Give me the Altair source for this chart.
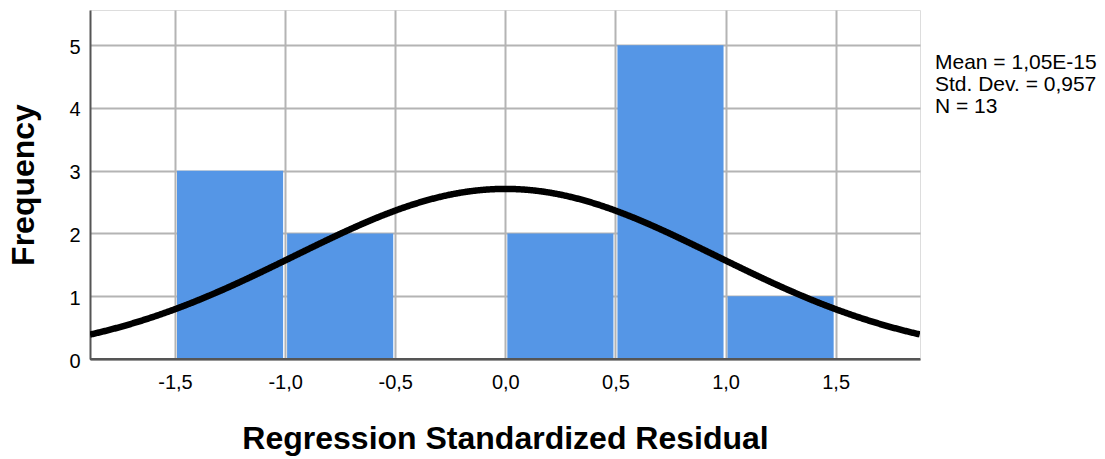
import altair as alt
import pandas as pd

# ---- data ----
bin_start = [-1.5, -1.0, -0.5, 0.0, 0.5, 1.0]
bin_end = [-1.0, -0.5, 0.0, 0.5, 1.0, 1.5]
freq = [3, 2, 0, 2, 5, 1]
x_ticks = [-1.5, -1.0, -0.5, 0.0, 0.5, 1.0, 1.5]
y_ticks = [0, 1, 2, 3, 4, 5]
mean_val = 1.05e-15
std_val = 0.957
n_val = 13
bin_width = 0.5
stats_lines = ["Mean = 1,05E-15", "Std. Dev. = 0,957", "N = 13"]
x_title = "Regression Standardized Residual"
y_title = "Frequency"

FONT = "Liberation Sans"
x_dom = [-1.886, 1.883]
y_dom = [0, 5.56]

bars_df = pd.DataFrame({"start": bin_start, "end": bin_end, "freq": freq})

xscale = alt.Scale(domain=x_dom, nice=False, zero=False)
yscale = alt.Scale(domain=y_dom, nice=False)

xaxis = alt.Axis(values=x_ticks,
                 labelExpr="replace(replace(format(datum.value, '.1f'), '.', ','), '\u2212', '-')",
                 grid=True, gridColor="#b4b4b4", gridWidth=2, ticks=False,
                 domainColor="#555555", domainWidth=2, labelFontSize=20, labelColor="#000000",
                 labelPadding=13, labelFont=FONT, title=x_title, titleFont=FONT,
                 titleFontSize=32, titleFontWeight="bold", titleColor="#000000", titlePadding=31)
yaxis = alt.Axis(values=y_ticks, format="d", grid=True, gridColor="#b4b4b4", gridWidth=2, ticks=False,
                 domainColor="#555555", domainWidth=2, labelFontSize=20, labelColor="#000000",
                 labelPadding=10, labelOffset=2, labelFont=FONT, title=y_title, titleFont=FONT,
                 titleFontSize=32, titleFontWeight="bold", titleColor="#000000", titlePadding=28)

bars = alt.Chart(bars_df).mark_bar(color="#5596e6", xOffset=2, x2Offset=-2).encode(
    x=alt.X("start:Q", scale=xscale, axis=xaxis),
    x2="end:Q",
    y=alt.Y("freq:Q", scale=yscale, axis=yaxis),
    y2=alt.datum(0),
)

pdf_expr = (f"{n_val * bin_width}/({std_val}*sqrt(2*PI))*"
            f"exp(-0.5*pow((datum.z-({mean_val}))/{std_val},2))")
curve = alt.Chart(alt.sequence(x_dom[0], x_dom[1], 0.004, as_="z")).transform_calculate(
    dens=pdf_expr
).mark_line(color="#000000", strokeWidth=6.5, clip=True).encode(
    x=alt.X("z:Q", scale=xscale),
    y=alt.Y("dens:Q", scale=yscale),
)

base_line = alt.Chart(pd.DataFrame({"v": [0]})).mark_rule(color="#555555", strokeWidth=2).encode(
    y=alt.Y("v:Q", scale=yscale),
)

stats = alt.Chart(pd.DataFrame({"t": ["\n".join(stats_lines)]})).mark_text(
    align="left", baseline="alphabetic", lineBreak="\n", lineHeight=22, fontSize=21,
    font=FONT, color="#000000", clip=False,
).encode(x=alt.value(845), y=alt.value(59), text="t:N")

chart = alt.layer(bars, curve, base_line, stats).properties(
    width=830, height=349,
    padding={"left": 90, "top": 10, "right": 185, "bottom": 100},
    autosize=alt.AutoSizeParams(type="none"),
).configure_view(stroke=None).configure(background="white")

chart.save("out.html", embed_options={"renderer": "svg", "actions": False})
